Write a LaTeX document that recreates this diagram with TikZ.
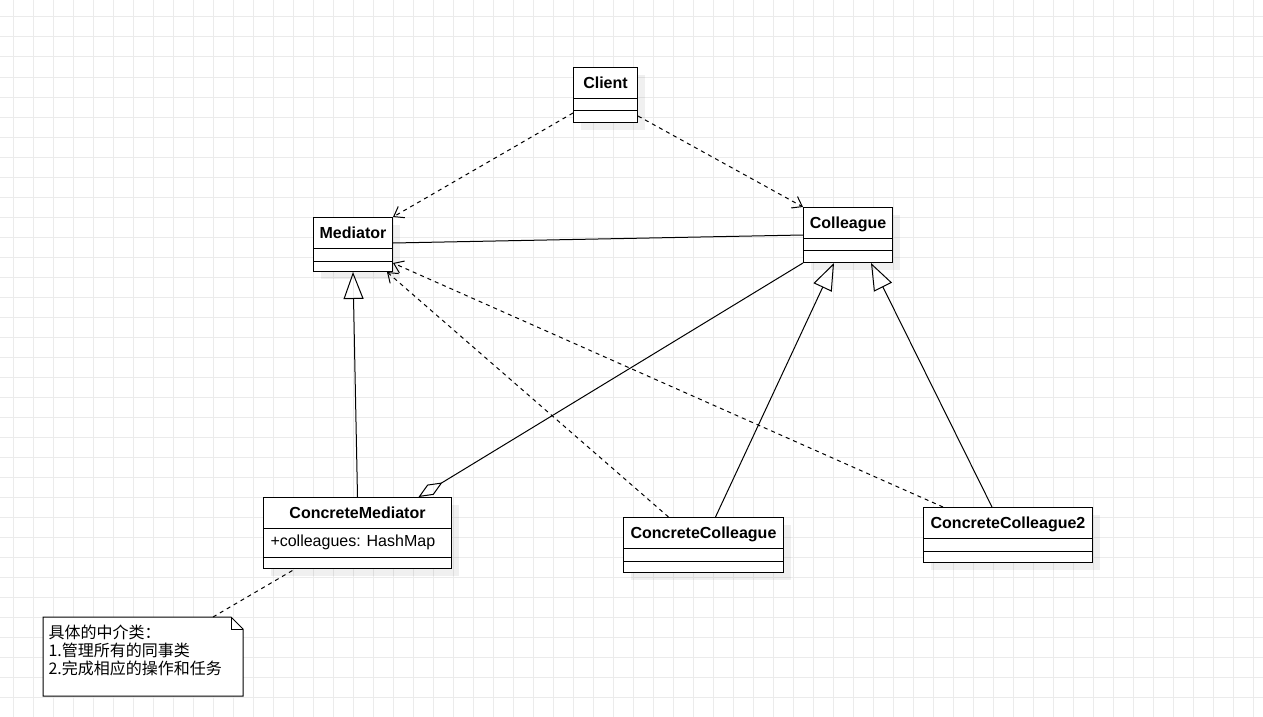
\documentclass[tikz,border=0pt]{standalone}
\usepackage{fontspec}
\setmainfont{Liberation Sans}
\newfontfamily\cjk{Noto Sans CJK SC}
\usetikzlibrary{arrows.meta,shadows}

\begin{document}
\begin{tikzpicture}[x=1pt, y=-1pt, line width=1pt,
  font=\fontsize{16}{19}\selectfont,
  gridline/.style={draw=black!8, line width=1pt},
  classbox/.style={draw, fill=white, anchor=north west, inner sep=0pt,
    drop shadow={shadow xshift=7pt, shadow yshift=-7pt, fill=black, opacity=0.06}},
  classname/.style={font=\fontsize{16}{19}\selectfont\bfseries, inner sep=0pt, text height=11.5pt, text depth=0pt},
  attr/.style={anchor=west, inner sep=0pt, text height=11.5pt, text depth=0pt},
  notebox/.style={anchor=north west, inner sep=0pt},
  notetext/.style={anchor=north west, align=left, inner sep=0pt, font=\cjk\fontsize{16}{18.3}\selectfont},
  dep/.style={dash pattern=on 4pt off 4pt, -{Straight Barb[length=9pt, width=13pt]}},
  inherit/.style={-{Triangle[open, length=27pt, width=20pt]}},
  agg/.style={-{Diamond[open, length=28pt, width=12pt]}},
  notelink/.style={dash pattern=on 4pt off 4pt}]
  \useasboundingbox[fill=white] (0,0) rectangle (1263,717);

  % background grid
  \foreach \gx in {0,...,62} \draw[gridline] (13+20*\gx,0) -- (13+20*\gx,717);
  \foreach \gy in {0,...,35} \draw[gridline] (0,17+20*\gy) -- (1263,17+20*\gy);

  % classes
  \node[classbox, minimum width=64pt, minimum height=55pt] (client) at (573,67) {};
  \node[classname] (client-name) at ([yshift=-15.5pt]client.north) {Client};
  \draw ([yshift=-31pt]client.north west) -- ([yshift=-31pt]client.north east);
  \draw ([yshift=-43.5pt]client.north west) -- ([yshift=-43.5pt]client.north east);

  \node[classbox, minimum width=79pt, minimum height=54pt] (mediator) at (313,217) {};
  \node[classname] (mediator-name) at ([yshift=-15.5pt]mediator.north) {Mediator};
  \draw ([yshift=-31pt]mediator.north west) -- ([yshift=-31pt]mediator.north east);
  \draw ([yshift=-44pt]mediator.north west) -- ([yshift=-44pt]mediator.north east);

  \node[classbox, minimum width=89pt, minimum height=55pt] (colleague) at (803,207) {};
  \node[classname] (colleague-name) at ([yshift=-15.5pt]colleague.north) {Colleague};
  \draw ([yshift=-31pt]colleague.north west) -- ([yshift=-31pt]colleague.north east);
  \draw ([yshift=-43.5pt]colleague.north west) -- ([yshift=-43.5pt]colleague.north east);

  \node[classbox, minimum width=188pt, minimum height=71pt] (cmed) at (263,497) {};
  \node[classname] (cmed-name) at ([yshift=-15.5pt]cmed.north) {ConcreteMediator};
  \draw ([yshift=-31pt]cmed.north west) -- ([yshift=-31pt]cmed.north east);
  \node[attr] (cmed-attr) at ([xshift=7pt, yshift=-44pt]cmed.north west) {+colleagues: HashMap};
  \draw ([yshift=-60pt]cmed.north west) -- ([yshift=-60pt]cmed.north east);

  \node[classbox, minimum width=160pt, minimum height=55pt] (cc) at (623,517) {};
  \node[classname] (cc-name) at ([yshift=-15.5pt]cc.north) {ConcreteColleague};
  \draw ([yshift=-31.5pt]cc.north west) -- ([yshift=-31.5pt]cc.north east);
  \draw ([yshift=-44pt]cc.north west) -- ([yshift=-44pt]cc.north east);

  \node[classbox, minimum width=169pt, minimum height=55pt] (cc2) at (923,507) {};
  \node[classname] (cc2-name) at ([yshift=-15.5pt]cc2.north) {ConcreteColleague2};
  \draw ([yshift=-31.5pt]cc2.north west) -- ([yshift=-31.5pt]cc2.north east);
  \draw ([yshift=-44pt]cc2.north west) -- ([yshift=-44pt]cc2.north east);

  % note
  \node[notebox, minimum width=199pt, minimum height=78pt] (note) at (43,617) {};
  \draw[fill=white] (note.north west) -- ([xshift=-12pt]note.north east)
    -- ([yshift=-12pt]note.north east) -- (note.south east) -- (note.south west) -- cycle;
  \draw ([xshift=-12pt]note.north east) |- ([yshift=-12pt]note.north east);
  \node[notetext] (note-text) at ([xshift=5pt, yshift=-7pt]note.north west)
    {具体的中介类：\\1.管理所有的同事类\\2.完成相应的操作和任务};

  % relations
  \draw[dep] ([yshift=10pt]client.south west) -- (mediator.north east);
  \draw[dep] ([yshift=7pt]client.south east) -- (colleague.north west);
  \draw ([yshift=-26pt]mediator.north east) -- ([yshift=-28pt]colleague.north west);
  \draw[inherit] (cmed.north) -- (mediator.south);
  \draw[agg] (colleague.south west) -- ([xshift=61pt]cmed.north);
  \draw[dep] ([xshift=-35pt]cc.north) -- ([xshift=-6pt]mediator.south east);
  \draw[inherit] ([xshift=12pt]cc.north) -- ([xshift=-14pt]colleague.south);
  \draw[dep] ([xshift=-65pt]cc2.north) -- ([yshift=-46pt]mediator.north east);
  \draw[inherit] ([xshift=-16pt]cc2.north) -- ([xshift=23pt]colleague.south);
  \draw[notelink] ([xshift=70pt]note.north) -- ([xshift=32pt]cmed.south west);
\end{tikzpicture}
\end{document}
